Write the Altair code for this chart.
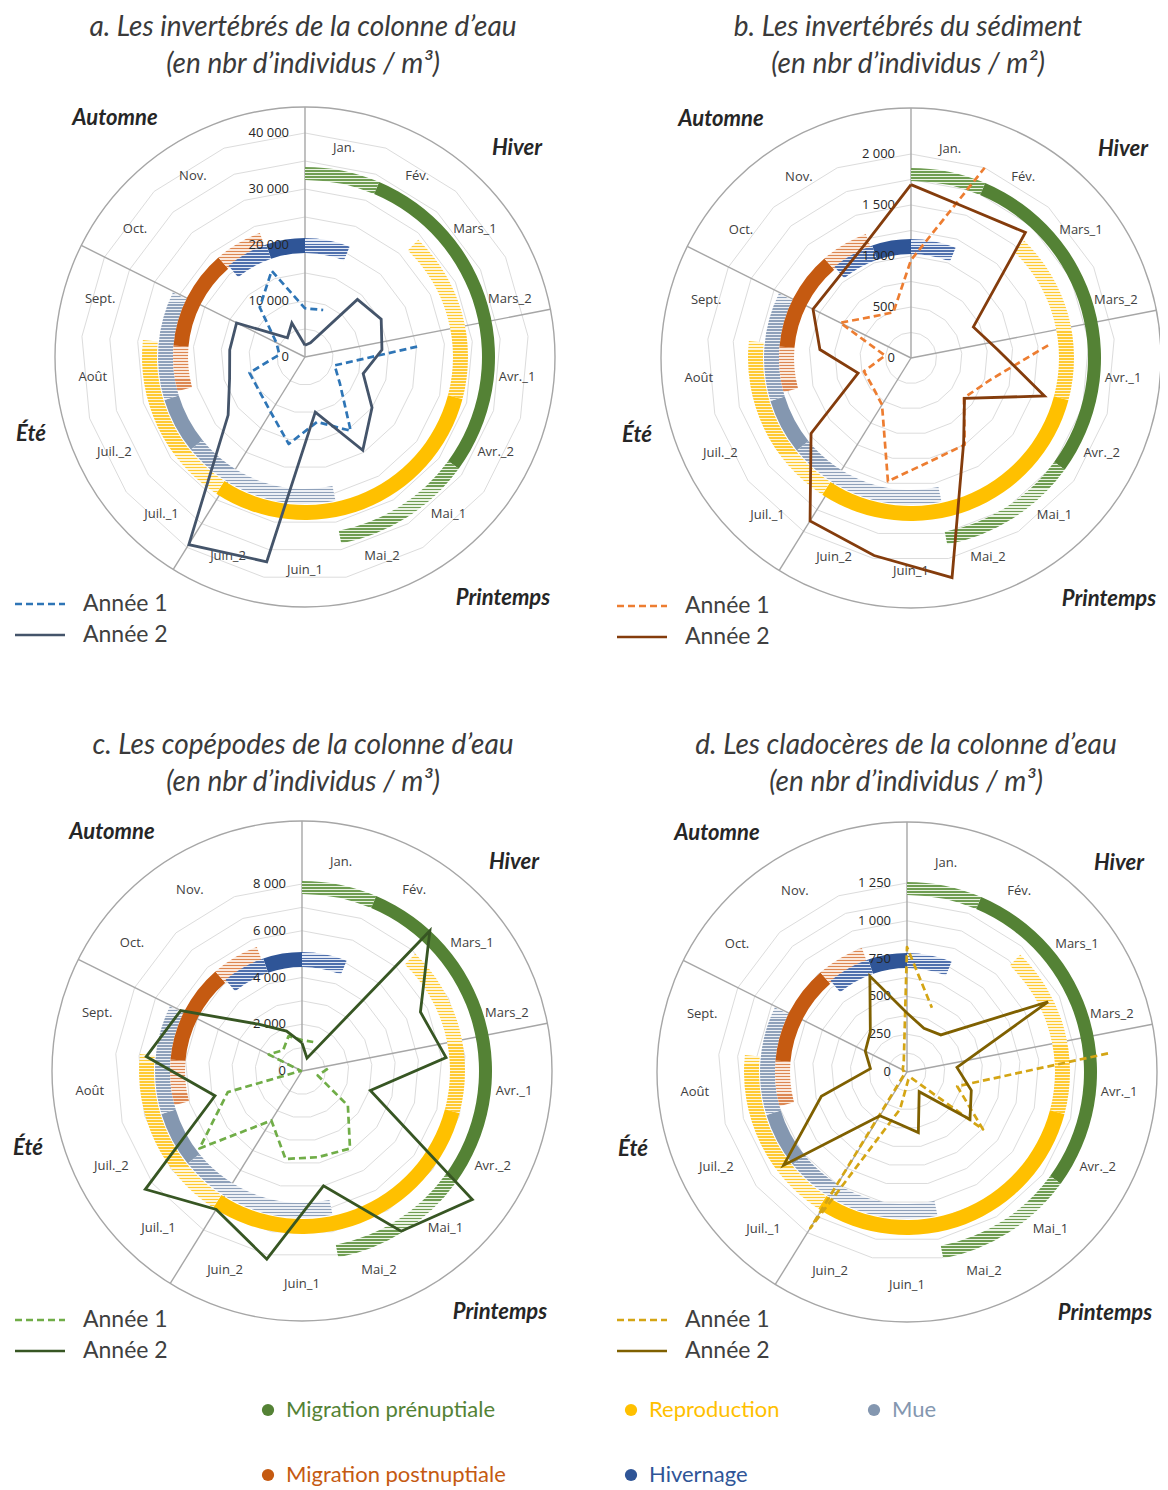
import math
import altair as alt
import pandas as pd

# ---------------------------------------------------------------- data
N_SPOKES = 17  # vertices of the radar grid (values read at each vertex)
CATS = ["Jan.", "Fév.", "Mars_1", "Mars_2", "Avr._1", "Avr._2", "Mai_1", "Mai_2",
        "Juin_1", "Juin_2", "Juil._1", "Juil._2", "Août", "Sept.", "Oct.", "Nov."]

# a. invertébrés de la colonne d'eau (ind./m3)
A_Y1 = [8700, 9000, None, None, 20100, 5500, 7800, 15500, 11800, 15800, 11600, 10200, 10300, 4600, 5700, 12000, 16500]
A_Y2 = [2100, 2700, 13900, 15200, 13800, 10800, 15000, 19600, 10000, 37200, 39400, 17200, 14000, 13500, 13650, 4650, 6500]
# b. invertébrés du sédiment (ind./m2)
B_Y1 = [960, 2000, None, None, 1350, 800, 650, 1000, 1030, 1230, 540, 470, 480, 255, 775, 550, 480]
B_Y2 = [1700, 1570, 1665, 683, 856, 1360, 657, 980, 2190, 1970, 1880, 1228, 539, 897, 1073, 1062, 1213]
# c. copépodes (ind./m3)
C_Y1 = [1320, 1330, None, None, 1110, 700, 2460, 3900, 3750, 3830, 2490, 5500, 3300, 50, 1590, 1200, 1600]
C_Y2 = [1200, 590, 8120, 5660, 6190, 3040, 9130, 8060, 5000, 8190, 6970, 8400, 3870, 6690, 5800, 2700, 1830]
# d. cladocères (ind./m3)
D_Y1 = [826, 456, None, None, 1335, 345, 630, 40, 50, 250, 1215, 20, 20, 20, 30, 40, 60]
D_Y2 = [390, 310, 332, 1042, 332, 442, 522, 153, 408, 345, 340, 1022, 589, 243, 308, 360, 680]

A_TICKS = [0, 10000, 20000, 30000, 40000]
B_TICKS = [0, 500, 1000, 1500, 2000]
C_TICKS = [0, 2000, 4000, 6000, 8000]
D_TICKS = [0, 250, 500, 750, 1000, 1250]

TITLES_1 = ["a. Les invertébrés de la colonne d’eau", "b. Les invertébrés du sédiment",
            "c. Les copépodes de la colonne d’eau", "d. Les cladocères de la colonne d’eau"]
TITLES_2 = ["(en nbr d’individus / m³)", "(en nbr d’individus / m²)",
            "(en nbr d’individus / m³)", "(en nbr d’individus / m³)"]
SERIES = ["Année 1", "Année 2"]

SEASONS = ["Hiver", "Printemps", "Été", "Automne"]
SEASON_BOUNDS = [0, 79, 211.8, 296.5]  # degrees, clockwise from top

PHASES = ["Migration prénuptiale", "Reproduction", "Mue", "Migration postnuptiale", "Hivernage"]
# periods (degrees clockwise from top): [start, end, plein/hachuré]
PERIODS = {
    "Migration prénuptiale": [[0, 23, "h"], [23, 126, "p"], [126, 169, "h"]],
    "Reproduction": [[44, 105, "h"], [105, 213, "p"], [213, 276, "h"]],
    "Mue": [[168, 231, "h"], [231, 253, "p"], [253, 296, "h"]],
    "Migration postnuptiale": [[255, 275, "h"], [275, 319, "p"], [319, 340, "h"]],
    "Hivernage": [[320, 341, "h"], [341, 360, "p"], [0, 22, "h"]],
}

# ---------------------------------------------------------------- layout / style
W, H = 1152, 1482
PIDS = ["a", "b", "c", "d"]
VALUES = {"a": (A_Y1, A_Y2), "b": (B_Y1, B_Y2), "c": (C_Y1, C_Y2), "d": (D_Y1, D_Y2)}
TICKS = {"a": A_TICKS, "b": B_TICKS, "c": C_TICKS, "d": D_TICKS}
LAYOUT = {
    "a": dict(cx=305, cy=357, ppu=224 / 40000, grid=5000, tx=303, ty=28, lx=15, ly=604),
    "b": dict(cx=911, cy=358, ppu=204 / 2000, grid=250, tx=908, ty=28, lx=617, ly=606),
    "c": dict(cx=302, cy=1071, ppu=187 / 8000, grid=1000, tx=303, ty=746, lx=15, ly=1320),
    "d": dict(cx=907, cy=1072, ppu=189 / 1250, grid=125, tx=906, ty=746, lx=617, ly=1320),
}
LINE_COLORS = {"a": ["#2e75b6", "#44546a"], "b": ["#ed7d31", "#843c0c"],
               "c": ["#70ad47", "#375623"], "d": ["#d4a514", "#7f6000"]}
RING = {  # inner, outer radius (px), solid colour, hatch colour, hatch light
    "Migration prénuptiale": (177, 190, "#548235", "#6f9d52", "#eaf3e4"),
    "Reproduction": (148, 163, "#ffc000", "#ffca33", "#fff6d9"),
    "Mue": (132, 147, "#8497b0", "#8fa1ba", "#edf0f5"),
    "Migration postnuptiale": (117, 132, "#c55a11", "#dc8752", "#fbe8db"),
    "Hivernage": (104, 119, "#2f5597", "#4f70ad", "#e4eaf5"),
}
OUTER_R = 250
CAT_R = 213
SEASON_OFF = {"Automne": (-190, -239), "Hiver": (212, -209), "Été": (-274, 77), "Printemps": (198, 241)}
TEXT = "#404040"
FONT_HAND = "Lato"
FONT_SMALL = "Open Sans"

XS = alt.Scale(domain=[8, 8 + W], nice=False, zero=False)
YS = alt.Scale(domain=[8, 8 + H], nice=False, zero=False, reverse=True)
TS = alt.Scale(domain=[0, 360], range=[0, 2 * math.pi], nice=False, zero=False)


def X(f):
    return alt.X(f"{f}:Q", scale=XS, axis=None)


def Y(f):
    return alt.Y(f"{f}:Q", scale=YS, axis=None)


def polar(cx, cy, r, deg):
    a = math.radians(deg)
    return cx + r * math.sin(a), cy - r * math.cos(a)


def spoke_deg(i):
    return 360.0 * i / N_SPOKES


def segments(vals):
    n = len(vals)
    if all(v is not None for v in vals):
        return [list(range(n)) + [0]]
    start = next(i for i in range(n) if vals[i] is None and vals[(i + 1) % n] is not None) + 1
    segs, cur = [], []
    for j in range(n):
        i = (start + j) % n
        if vals[i] is None:
            if cur:
                segs.append(cur)
            cur = []
        else:
            cur.append(i)
    if cur:
        segs.append(cur)
    return segs


def fmt(v):
    return f"{v:,}".replace(",", "\u00a0")


# ---------------------------------------------------------------- tables
grid_rows, line_rows, tick_rows, cat_rows, season_rows, rule_rows = [], [], [], [], [], []
title_rows, leg_rows, legtxt_rows, centre_rows = [], [], [], []
for pi, p in enumerate(PIDS):
    L = LAYOUT[p]
    cx, cy, ppu = L["cx"], L["cy"], L["ppu"]
    centre_rows.append(dict(panel=p, cx=cx, cy=cy))
    top = TICKS[p][-1]
    lvl = L["grid"]
    while lvl <= top + 1e-9:
        for o in range(N_SPOKES + 1):
            x, y = polar(cx, cy, lvl * ppu, spoke_deg(o % N_SPOKES))
            grid_rows.append(dict(key=f"{p}{lvl}", ord=o, x=x, y=y))
        lvl += L["grid"]
    for si, vals in enumerate(VALUES[p]):
        sname = f"{p} {SERIES[si]}"
        for gi, seg in enumerate(segments(vals)):
            for o, i in enumerate(seg):
                x, y = polar(cx, cy, vals[i] * ppu, spoke_deg(i))
                line_rows.append(dict(series=sname, yr=si, key=f"{sname}-{gi}", ord=o, x=x, y=y))
        ly = L["ly"] + 31 * si
        leg_rows.append(dict(series=sname, yr=si, x=L["lx"], x2=L["lx"] + 50, y=ly))
        legtxt_rows.append(dict(x=L["lx"] + 68, y=ly, label=SERIES[si]))
    for t in TICKS[p]:
        tick_rows.append(dict(x=cx - 16, y=cy - t * ppu, label=fmt(t)))
    for k, c in enumerate(CATS):
        x, y = polar(cx, cy, CAT_R, (k + 0.5) * 360.0 / N_SPOKES)
        cat_rows.append(dict(x=x, y=y, label=c))
    for s in SEASONS:
        dx, dy = SEASON_OFF[s]
        season_rows.append(dict(x=cx + dx, y=cy + dy, label=s))
    for b in SEASON_BOUNDS:
        x2, y2 = polar(cx, cy, OUTER_R, b)
        rule_rows.append(dict(x=cx, y=cy, x2=x2, y2=y2))
    title_rows.append(dict(x=L["tx"], y=L["ty"], label=TITLES_1[pi]))
    title_rows.append(dict(x=L["tx"], y=L["ty"] + 37, label=TITLES_2[pi]))

centres = pd.DataFrame(centre_rows)

# ---------------------------------------------------------------- layers
layers = []

layers.append(alt.Chart(pd.DataFrame(grid_rows)).mark_line(color="#dcdcdc", strokeWidth=1).encode(
    x=X("x"), y=Y("y"), detail="key:N", order="ord:Q"))

layers.append(alt.Chart(centres).mark_arc(
    theta=0, theta2=2 * math.pi, outerRadius=OUTER_R, fillOpacity=0,
    stroke="#a6a6a6", strokeWidth=1.4).encode(x=X("cx"), y=Y("cy")))

layers.append(alt.Chart(pd.DataFrame(rule_rows)).mark_rule(color="#a6a6a6", strokeWidth=1.4).encode(
    x=X("x"), y=Y("y"), x2=alt.X2("x2:Q"), y2=alt.Y2("y2:Q")))


def hatch(col, light, height):
    n = max(3, int(round(height / 3.0)))
    stops = []
    for i in range(n):
        a0, a1, a2 = i / n, (i + 0.5) / n, (i + 1) / n
        stops += [alt.GradientStop(offset=a0, color=col), alt.GradientStop(offset=a1, color=col),
                  alt.GradientStop(offset=a1, color=light), alt.GradientStop(offset=a2, color=light)]
    return alt.LinearGradient(gradient="linear", stops=stops, x1=0, x2=0, y1=0, y2=1)


def arc_height(t0, t1, r0, r1):
    ys = []
    for j in range(61):
        a = math.radians(t0 + (t1 - t0) * j / 60)
        ys += [-r0 * math.cos(a), -r1 * math.cos(a)]
    return max(ys) - min(ys)


for ph in PHASES:
    r0, r1, solid, hcol, hlight = RING[ph]
    for t0, t1, kind in PERIODS[ph]:
        df = centres.assign(t0=t0, t1=t1)
        if kind == "p":
            mk = alt.Chart(df).mark_arc(innerRadius=r0, outerRadius=r1, fill=solid)
        else:
            mk = alt.Chart(df).mark_arc(innerRadius=r0, outerRadius=r1,
                                        fill=hatch(hcol, hlight, arc_height(t0, t1, r0, r1)))
        layers.append(mk.encode(x=X("cx"), y=Y("cy"),
                                theta=alt.Theta("t0:Q", scale=TS, stack=None),
                                theta2=alt.Theta2("t1:Q")))

layers.append(alt.Chart(pd.DataFrame(tick_rows)).mark_text(
    font=FONT_SMALL, fontSize=13, color="#262626", align="right", baseline="middle").encode(
    x=X("x"), y=Y("y"), text="label:N"))
layers.append(alt.Chart(pd.DataFrame(cat_rows)).mark_text(
    font=FONT_SMALL, fontSize=13, color=TEXT, align="center", baseline="middle").encode(
    x=X("x"), y=Y("y"), text="label:N"))
layers.append(alt.Chart(pd.DataFrame(season_rows)).mark_text(
    font=FONT_HAND, fontSize=22, fontStyle="italic", fontWeight="bold", color="#262626",
    align="center", baseline="middle").encode(x=X("x"), y=Y("y"), text="label:N"))

series_dom = [f"{p} {s}" for p in PIDS for s in SERIES]
series_rng = [LINE_COLORS[p][i] for p in PIDS for i in range(2)]
SCOL = alt.Color("series:N", scale=alt.Scale(domain=series_dom, range=series_rng), legend=None)

lines = pd.DataFrame(line_rows)
layers.append(alt.Chart(lines[lines.yr == 0]).mark_line(
    strokeWidth=2.7, strokeDash=[7, 4], strokeJoin="round").encode(
    x=X("x"), y=Y("y"), detail="key:N", order="ord:Q", color=SCOL))
layers.append(alt.Chart(lines[lines.yr == 1]).mark_line(
    strokeWidth=2.8, strokeJoin="miter").encode(
    x=X("x"), y=Y("y"), detail="key:N", order="ord:Q", color=SCOL))

layers.append(alt.Chart(pd.DataFrame(title_rows)).mark_text(
    font=FONT_HAND, fontSize=28, fontStyle="italic", color="#3a3a3a",
    align="center", baseline="middle").encode(x=X("x"), y=Y("y"), text="label:N"))

legs = pd.DataFrame(leg_rows)
layers.append(alt.Chart(legs[legs.yr == 0]).mark_rule(strokeWidth=2.4, strokeDash=[7, 4]).encode(
    x=X("x"), x2=alt.X2("x2:Q"), y=Y("y"), color=SCOL))
layers.append(alt.Chart(legs[legs.yr == 1]).mark_rule(strokeWidth=2.4).encode(
    x=X("x"), x2=alt.X2("x2:Q"), y=Y("y"), color=SCOL))
layers.append(alt.Chart(pd.DataFrame(legtxt_rows)).mark_text(
    font=FONT_HAND, fontSize=23, color=TEXT, align="left", baseline="middle").encode(
    x=X("x"), y=Y("y"), text="label:N"))

# bottom legend of bird phases (one layer per phase, fixed colours)
PH_X = [268, 631, 874, 268, 631]
PH_Y = [1410, 1410, 1410, 1475, 1475]
for ph, px, py in zip(PHASES, PH_X, PH_Y):
    col = RING[ph][2]
    d1 = pd.DataFrame(dict(phase=[ph], x=[px], y=[py], tx=[px + 18]))
    layers.append(alt.Chart(d1).mark_point(filled=True, size=150, opacity=1, color=col).encode(
        x=X("x"), y=Y("y")))
    layers.append(alt.Chart(d1).mark_text(
        font=FONT_HAND, fontSize=22, align="left", baseline="middle", color=col).encode(
        x=X("tx"), y=Y("y"), text="phase:N"))

chart = alt.layer(*layers).properties(
    width=W, height=H, padding=0, autosize=alt.AutoSizeParams(type="none"),
    background="white").configure_view(stroke=None)

chart.save("out.html", embed_options={"renderer": "svg", "actions": False})
